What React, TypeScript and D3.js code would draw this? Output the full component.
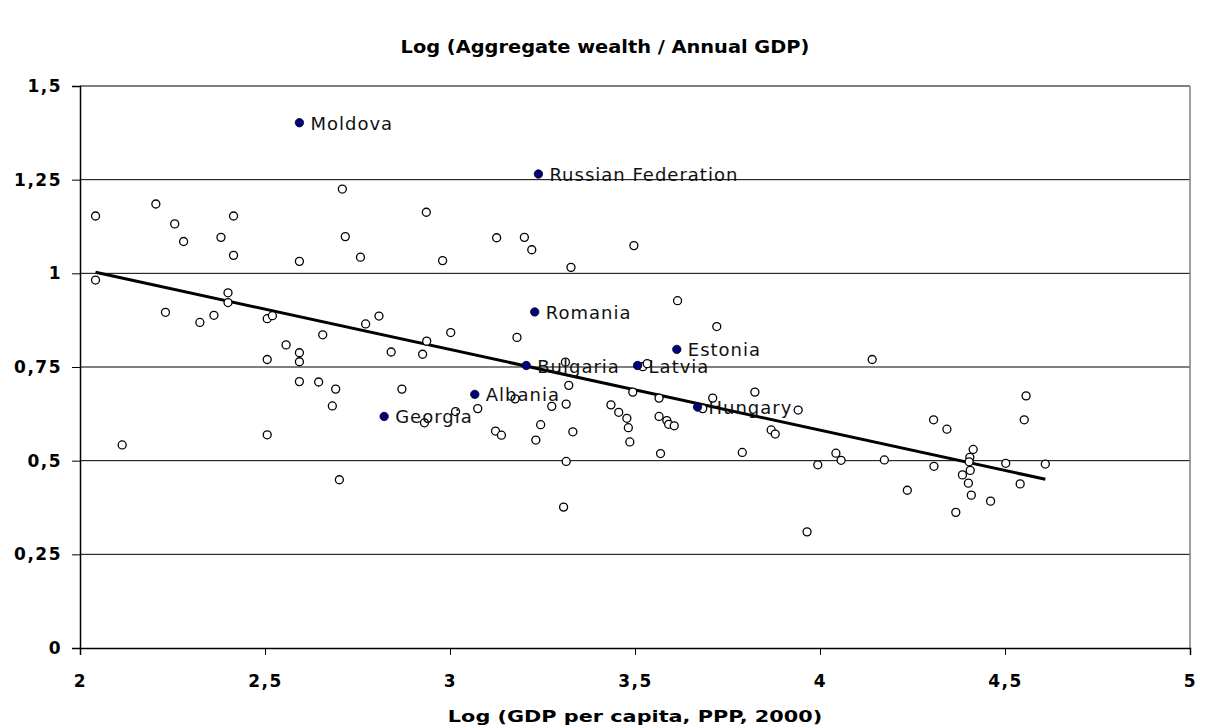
import { useEffect, useRef } from 'react';
import * as d3 from 'd3';

// unlabelled countries: log GDP per capita (x) and log wealth / GDP (y)
const openX = [
  2.042, 2.205, 2.256, 2.28, 2.381, 2.415, 2.415, 2.593, 2.709, 2.717, 2.758, 2.936, 2.98,
  2.042, 2.4, 2.4, 2.231, 2.324, 2.362, 2.506, 2.52, 2.656, 2.557, 2.593, 2.593, 2.506,
  2.772, 2.808, 2.841, 2.926, 2.937, 3.002, 2.593, 2.645, 2.691, 2.682, 2.87, 2.931, 3.015,
  2.506, 2.114, 2.701, 3.126, 3.201, 3.221, 3.327, 3.497, 3.615, 3.181, 3.721, 3.312, 3.521,
  3.533, 3.321, 3.176, 3.075, 3.275, 3.314, 3.494, 3.565, 3.435, 3.456, 3.478, 3.482, 3.486,
  3.565, 3.586, 3.591, 3.606, 3.569, 3.683, 3.71, 3.824, 3.941, 3.868, 3.879, 3.79, 3.994,
  3.123, 3.139, 3.245, 3.232, 3.332, 3.314, 3.307, 3.965, 4.141, 4.043, 4.057, 4.174, 4.236,
  4.307, 4.343, 4.308, 4.414, 4.405, 4.403, 4.406, 4.385, 4.401, 4.409, 4.367, 4.461, 4.502,
  4.541, 4.552, 4.557, 4.609,
];
const openY = [
  1.153, 1.185, 1.132, 1.085, 1.096, 1.153, 1.048, 1.032, 1.225, 1.098, 1.043, 1.163, 1.034,
  0.982, 0.948, 0.922, 0.896, 0.869, 0.888, 0.879, 0.887, 0.836, 0.809, 0.788, 0.764, 0.77,
  0.865, 0.886, 0.79, 0.784, 0.819, 0.842, 0.711, 0.71, 0.691, 0.646, 0.691, 0.601, 0.631,
  0.569, 0.542, 0.449, 1.095, 1.096, 1.063, 1.016, 1.074, 0.927, 0.829, 0.858, 0.763, 0.751,
  0.759, 0.701, 0.665, 0.639, 0.645, 0.651, 0.683, 0.667, 0.649, 0.629, 0.613, 0.588, 0.55,
  0.618, 0.607, 0.597, 0.593, 0.519, 0.639, 0.667, 0.683, 0.635, 0.582, 0.571, 0.522, 0.489,
  0.579, 0.568, 0.596, 0.555, 0.577, 0.498, 0.376, 0.31, 0.77, 0.52, 0.501, 0.502, 0.421,
  0.609, 0.584, 0.485, 0.53, 0.509, 0.497, 0.474, 0.462, 0.44, 0.408, 0.362, 0.392, 0.493,
  0.438, 0.609, 0.673, 0.491,
];

// highlighted transition countries
const namedCountries = ['Moldova', 'Russian Federation', 'Romania', 'Estonia', 'Bulgaria', 'Latvia', 'Albania', 'Georgia', 'Hungary'];
const namedX = [2.593, 3.239, 3.229, 3.613, 3.206, 3.507, 3.067, 2.822, 3.669];
const namedY = [1.402, 1.265, 0.897, 0.797, 0.754, 0.754, 0.677, 0.618, 0.643];

// linear trend: y = a + b * x
const trendIntercept = 1.4427;
const trendSlope = -0.2153;

const xTicks = [2, 2.5, 3, 3.5, 4, 4.5, 5];
const yTicks = [0, 0.25, 0.5, 0.75, 1, 1.25, 1.5];

const fmt = (v: number) => String(v).replace('.', ',');
const FONT = 'DejaVu Sans, Verdana, sans-serif';

export default function App() {
  const svgRef = useRef<SVGSVGElement>(null);

  useEffect(() => {
    if (!svgRef.current) return;
    const svg = d3.select(svgRef.current);
    svg.selectAll('*').remove();

    const width = 1207;
    const height = 727;
    const left = 80;
    const right = 1190;
    const top = 86;
    const bottom = 648;

    const x = d3.scaleLinear().domain([2, 5]).range([left, right]);
    const y = d3.scaleLinear().domain([0, 1.5]).range([bottom, top]);

    svg.append('rect').attr('width', width).attr('height', height).attr('fill', '#fff');

    // title (the original text is drawn a little wider than the font)
    svg.append('text')
      .attr('transform', 'translate(605,53) scale(1.14,1)')
      .attr('text-anchor', 'middle')
      .attr('font-family', FONT)
      .attr('font-weight', 'bold')
      .attr('font-size', '17px')
      .text('Log (Aggregate wealth / Annual GDP)');

    // gridlines
    svg.append('g')
      .selectAll('line')
      .data(yTicks.filter(t => t > 0))
      .join('line')
      .attr('x1', left)
      .attr('x2', right)
      .attr('y1', d => y(d))
      .attr('y2', d => y(d))
      .attr('stroke', '#000')
      .attr('stroke-width', 1);

    // right border
    svg.append('line')
      .attr('x1', right).attr('x2', right)
      .attr('y1', top).attr('y2', bottom)
      .attr('stroke', '#808080')
      .attr('stroke-width', 1.5);

    // y axis
    const yAxis = svg.append('g')
      .attr('transform', `translate(${left},0)`)
      .call(d3.axisLeft(y).tickValues(yTicks).tickSize(8).tickPadding(10).tickFormat(d => fmt(d as number)));
    // x axis
    const xAxis = svg.append('g')
      .attr('transform', `translate(0,${bottom})`)
      .call(d3.axisBottom(x).tickValues(xTicks).tickSize(7).tickPadding(20).tickFormat(d => fmt(d as number)));

    [yAxis, xAxis].forEach(ax => {
      ax.select('.domain').attr('stroke', '#000').attr('stroke-width', 1.5);
      ax.selectAll('.tick line').attr('stroke', '#000');
      ax.selectAll('.tick text')
        .attr('font-family', FONT)
        .attr('font-weight', 'bold')
        .attr('font-size', '17px')
        .attr('letter-spacing', '1.5px')
        .attr('fill', '#000');
    });

    // x axis title
    svg.append('text')
      .attr('transform', 'translate(635,722) scale(1.3,1)')
      .attr('text-anchor', 'middle')
      .attr('font-family', FONT)
      .attr('font-weight', 'bold')
      .attr('font-size', '16px')
      .text('Log (GDP per capita, PPP, 2000)');

    // trend line
    const xMin = d3.min(openX)!;
    const xMax = d3.max(openX)!;
    const line = d3.line<number>()
      .x(d => x(d))
      .y(d => y(trendIntercept + trendSlope * d));
    svg.append('path')
      .attr('d', line([xMin, xMax]))
      .attr('fill', 'none')
      .attr('stroke', '#000')
      .attr('stroke-width', 3);

    // open markers
    svg.append('g')
      .selectAll('circle')
      .data(openX.map((v, i) => [v, openY[i]]))
      .join('circle')
      .attr('cx', d => x(d[0]))
      .attr('cy', d => y(d[1]))
      .attr('r', 4)
      .attr('fill', '#fff')
      .attr('stroke', '#000')
      .attr('stroke-width', 1.3);

    // named markers + labels
    const named = svg.append('g');
    namedCountries.forEach((name, i) => {
      named.append('circle')
        .attr('cx', x(namedX[i]))
        .attr('cy', y(namedY[i]))
        .attr('r', 4.2)
        .attr('fill', '#000080')
        .attr('stroke', '#000')
        .attr('stroke-width', 0.8);
      named.append('text')
        .attr('x', x(namedX[i]) + 11)
        .attr('y', y(namedY[i]) + 7)
        .attr('font-family', FONT)
        .attr('font-size', '18px')
        .attr('letter-spacing', '1px')
        .attr('fill', '#111')
        .text(name);
    });
  }, []);

  return (
    <svg
      ref={svgRef}
      width={1207}
      height={727}
      style={{ position: 'absolute', left: 0, top: 0 }}
    />
  );
}
